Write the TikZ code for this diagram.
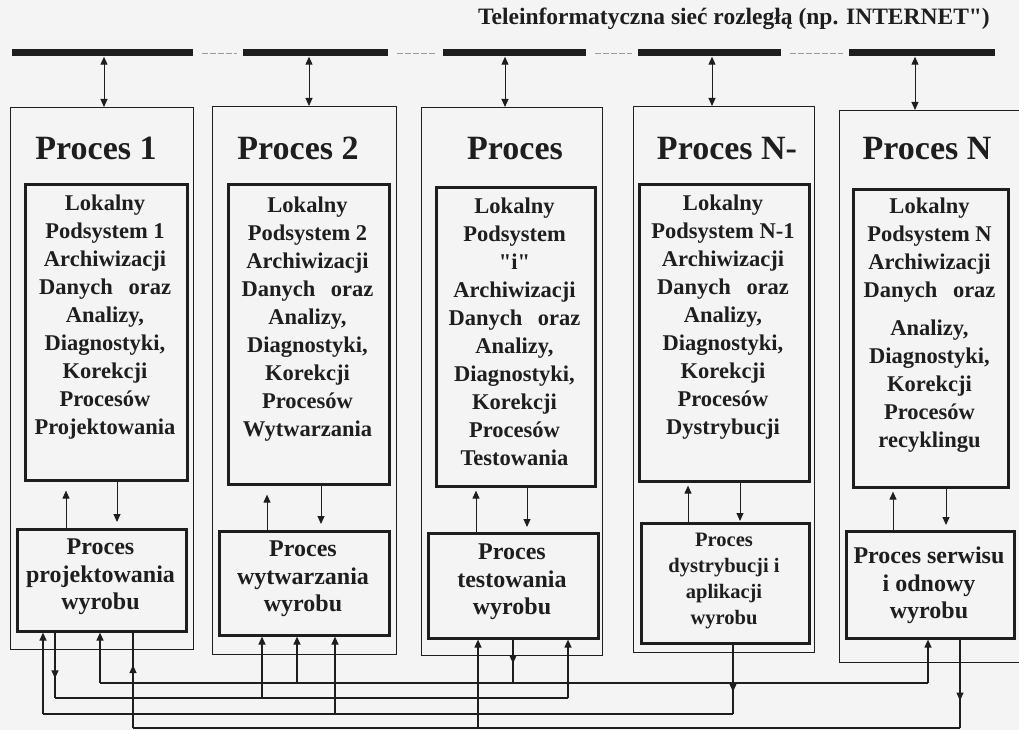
\documentclass[tikz,border=0pt]{standalone}
\usepackage{fontspec}
\setmainfont{Liberation Serif}[Ligatures=TeXOff]
\usetikzlibrary{arrows.meta,decorations.markings,calc}
\definecolor{ink}{HTML}{1E1E1E}
\definecolor{bg}{HTML}{F4F4F4}
\definecolor{dashgray}{HTML}{9A9A9A}
\begin{document}
\begin{tikzpicture}[x=1pt,y=-1pt,color=ink,
  outerbox/.style={draw, line width=0.8pt, anchor=north west, inner sep=0pt},
  thickbox/.style={draw, line width=2.6pt, anchor=north west, inner sep=0pt},
  netbar/.style={fill=ink, anchor=west, minimum height=7pt, inner sep=0pt},
  tip/.style={-{Triangle[length=8pt,width=7pt]}},
  dtip/.style={{Triangle[length=8pt,width=7pt]}-{Triangle[length=8pt,width=7pt]}},
  wire/.style={line width=1.2pt},
  link/.style={line width=1pt},
  midarrow/.style={postaction={decorate}, decoration={markings, mark=at position #1 with {\arrow{Triangle[length=8pt,width=7pt]}}}},
  ptitle/.style={anchor=base, font=\fontsize{34}{40}\selectfont\bfseries, inner sep=0pt},
  intext/.style={anchor=north, align=center, inner sep=0pt, font=\fontsize{22.5}{28}\selectfont\bfseries},
  smtext/.style={anchor=north, align=center, inner sep=0pt, font=\fontsize{24}{27.5}\selectfont\bfseries},
  smtextb/.style={anchor=north, align=center, inner sep=0pt, font=\fontsize{20.5}{26}\selectfont\bfseries}
]
\clip (0,0) rectangle (1019,730);
\fill[bg] (0,0) rectangle (1019,730);

% title
\node[anchor=base east, inner sep=0pt, font=\fontsize{23.5}{27}\selectfont\bfseries] (title) at (990,25) {Teleinformatyczna sieć rozległą (np. INTERNET")};

% network bars
\node[netbar, minimum width=181pt] (bar1) at (12,53) {};
\node[netbar, minimum width=145pt] (bar2) at (243,53) {};
\node[netbar, minimum width=143pt] (bar3) at (443,53) {};
\node[netbar, minimum width=143pt] (bar4) at (638,53) {};
\node[netbar, minimum width=146pt] (bar5) at (849,53) {};
\foreach \a/\b in {bar1/bar2,bar2/bar3,bar3/bar4,bar4/bar5}
  \draw[dashgray, line width=0.6pt, dash pattern=on 6pt off 2pt, shorten <=9pt, shorten >=6pt] (\a.east) -- (\b.west);

% outer boxes
\node[outerbox, minimum width=183pt, minimum height=542pt] (o1) at (10,107) {};
\node[outerbox, minimum width=184pt, minimum height=548pt] (o2) at (212,106) {};
\node[outerbox, minimum width=181pt, minimum height=548pt] (o3) at (421,107) {};
\node[outerbox, minimum width=181pt, minimum height=546pt] (o4) at (633,106) {};
\node[outerbox, minimum width=190pt, minimum height=552pt] (o5) at (839,110) {};

% bar to process arrows
\draw[dtip, line width=1pt] (104,0 |- bar1.south) -- (104,0 |- o1.north);
\draw[dtip, line width=1pt] (309,0 |- bar2.south) -- (309,0 |- o2.north);
\draw[dtip, line width=1pt] (505,0 |- bar3.south) -- (505,0 |- o3.north);
\draw[dtip, line width=1pt] (712,0 |- bar4.south) -- (712,0 |- o4.north);
\draw[dtip, line width=1pt] (915,0 |- bar5.south) -- (915,0 |- o5.north);

% process titles
\node[ptitle] (p1) at (96,160) {Proces 1};
\node[ptitle] (p2) at (298,160) {Proces 2};
\node[ptitle] (p3) at (515,160) {Proces};
\node[ptitle] (p4) at (727,160) {Proces N-};
\node[ptitle] (p5) at (927,160) {Proces N};

% inner boxes
\node[thickbox, minimum width=162pt, minimum height=296pt] (i1) at (24,183) {};
\node[thickbox, minimum width=161pt, minimum height=300pt] (i2) at (227,183) {};
\node[thickbox, minimum width=159pt, minimum height=299pt] (i3) at (435,186) {};
\node[thickbox, minimum width=170pt, minimum height=297pt] (i4) at (638,183) {};
\node[thickbox, minimum width=155pt, minimum height=298pt] (i5) at (852,188) {};

\node[intext] (t1) at (105,195) {Lokalny\\Podsystem 1\\Archiwizacji\\Danych\hspace{0.7em}oraz\\Analizy,\\Diagnostyki,\\Korekcji\\Procesów\\Projektowania};
\node[intext] (t2) at (307.5,197) {Lokalny\\Podsystem 2\\Archiwizacji\\Danych\hspace{0.7em}oraz\\Analizy,\\Diagnostyki,\\Korekcji\\Procesów\\Wytwarzania};
\node[intext] (t3) at (514.5,198) {Lokalny\\Podsystem\\"i"\\Archiwizacji\\Danych\hspace{0.7em}oraz\\Analizy,\\Diagnostyki,\\Korekcji\\Procesów\\Testowania};
\node[intext] (t4) at (723,195) {Lokalny\\Podsystem N-1\\Archiwizacji\\Danych\hspace{0.7em}oraz\\Analizy,\\Diagnostyki,\\Korekcji\\Procesów\\Dystrybucji};
\node[intext] (t5) at (929.5,198) {Lokalny\\Podsystem N\\Archiwizacji\\Danych\hspace{0.7em}oraz\\[10pt]Analizy,\\Diagnostyki,\\Korekcji\\Procesów\\recyklingu};

% small process boxes
\node[thickbox, minimum width=169pt, minimum height=102pt] (s1) at (16,528) {};
\node[thickbox, minimum width=170pt, minimum height=104pt] (s2) at (218,530) {};
\node[thickbox, minimum width=170pt, minimum height=105pt] (s3) at (427,532) {};
\node[thickbox, minimum width=168pt, minimum height=120pt] (s4) at (640,522) {};
\node[thickbox, minimum width=168pt, minimum height=107pt] (s5) at (845,530) {};

\node[smtext] (u1) at (100.5,539) {Proces\\projektowania\\wyrobu};
\node[smtext] (u2) at (303,541) {Proces\\wytwarzania\\wyrobu};
\node[smtext] (u3) at (512,544) {Proces\\testowania\\wyrobu};
\node[smtextb] (u4) at (724,533) {Proces\\dystrybucji i\\aplikacji\\wyrobu};
\node[smtext] (u5) at (929,547) {Proces serwisu\\i odnowy\\wyrobu};

% arrows between inner and small boxes
\draw[link, tip, shorten >=9pt] (66,0 |- s1.north) -- (66,0 |- i1.south);
\draw[link, tip, shorten >=6pt] (117,0 |- i1.south) -- (117,0 |- s1.north);
\draw[link, tip, shorten >=9pt] (267,0 |- s2.north) -- (267,0 |- i2.south);
\draw[link, tip, shorten >=6pt] (321,0 |- i2.south) -- (321,0 |- s2.north);
\draw[link, tip, shorten >=3pt] (476,0 |- s3.north) -- (476,0 |- i3.south);
\draw[link, tip, shorten >=5pt] (527,0 |- i3.south) -- (527,0 |- s3.north);
\draw[link, tip, shorten >=3pt] (688,0 |- s4.north) -- (688,0 |- i4.south);
\draw[link, tip, shorten >=1pt] (740,0 |- i4.south) -- (740,0 |- s4.north);
\draw[link, tip, shorten >=3pt] (893,0 |- s5.north) -- (893,0 |- i5.south);
\draw[link, tip, shorten >=5pt] (946,0 |- i5.south) -- (946,0 |- s5.north);

% bus coordinates
\coordinate (b1w) at (100,683); \coordinate (b1e) at (928,683);
\coordinate (b2w) at (55,698);  \coordinate (b2e) at (568,698);
\coordinate (b3w) at (43,714);  \coordinate (b3e) at (733,714);
\coordinate (b4w) at (133,728); \coordinate (b4e) at (960,728);

% buses
\draw[wire] (b1w) -- (b1e);
\draw[wire] (b2w) -- (b2e);
\draw[wire] (b3w) -- (b3e);
\draw[wire] (b4w) -- (b4e);

% process 1 links
\draw[wire, tip] (b3w) -- (b3w |- s1.south);
\draw[wire, midarrow=0.7] (b2w |- s1.south) -- (b2w);
\draw[wire, tip] (b1w) -- (b1w |- s1.south);
\draw[wire, midarrow=0.66] (b4w) -- (b4w |- s1.south);
% process 2 links
\draw[wire, tip] (262,0 |- b2w) -- (262,0 |- s2.south);
\draw[wire, tip] (297,0 |- b1w) -- (297,0 |- s2.south);
\draw[wire, tip] (335,0 |- b3w) -- (335,0 |- s2.south);
% process i links
\draw[wire, tip] (478,0 |- b4w) -- (478,0 |- s3.south);
\draw[wire, midarrow=0.55] (513,0 |- s3.south) -- (513,0 |- b1w);
\draw[wire, tip] (b2e) -- (b2e |- s3.south);
% process N-1 link
\draw[wire, midarrow=0.68] (b3e |- s4.south) -- (b3e);
% process N links
\draw[wire, tip] (b1e) -- (b1e |- s5.south);
\draw[wire, midarrow=0.69] (b4e |- s5.south) -- (b4e);
\end{tikzpicture}
\end{document}
